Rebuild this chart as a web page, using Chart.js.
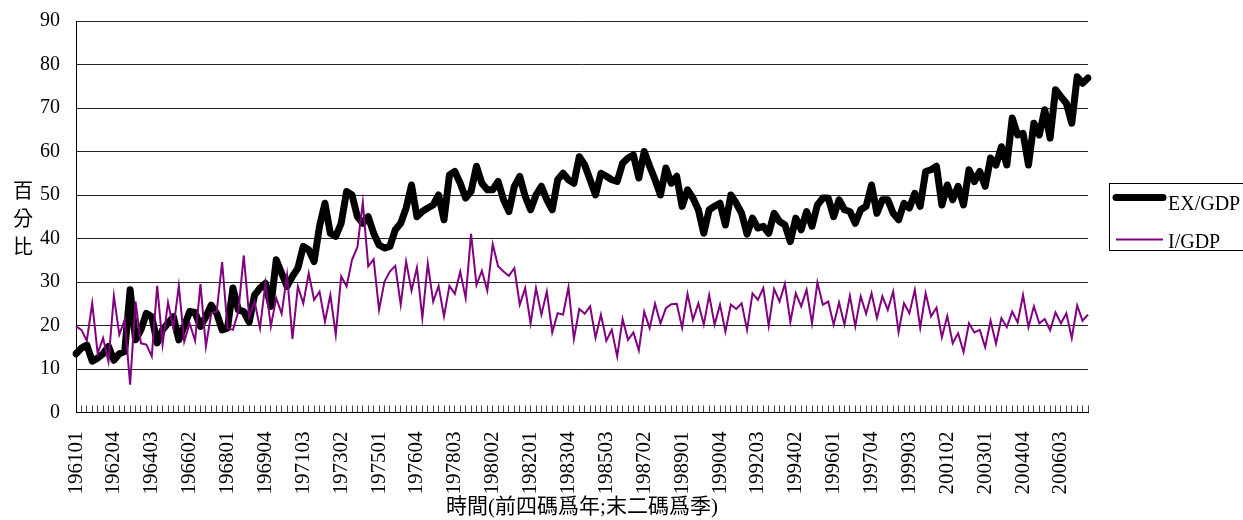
<!DOCTYPE html>
<html>
<head>
<meta charset="utf-8">
<title>EX/GDP 與 I/GDP</title>
<script src="https://cdn.jsdelivr.net/npm/chart.js@4/dist/chart.umd.min.js"></script>
<style>
  html, body { margin: 0; padding: 0; background: #ffffff; }
  #wrap { position: relative; width: 1243px; height: 520px; }
</style>
</head>
<body>
<div id="wrap"><canvas id="chart-canvas"></canvas></div>
<script>
// I build the quarter labels: 196101 ... 200704 (year + two-digit quarter)
const quarters = [];
for (let y = 1961; y <= 2007; y++) {
    for (let q = 1; q <= 4; q++) quarters.push(y + '0' + q);
}

// Exports / GDP (%), one value per quarter
const exGdp = [
    13.5, 14.8, 15.5, 11.8, 12.5, 13.5, 15.2, 12.0, 13.5, 14.0,
    28.2, 16.7, 19.0, 22.8, 22.0, 16.0, 19.0, 20.5, 22.0, 16.7,
    19.8, 23.2, 23.0, 19.8, 22.0, 24.7, 22.8, 19.0, 19.4, 28.6,
    23.6, 23.2, 20.8, 27.0, 28.6, 29.7, 24.4, 35.1, 32.0, 29.0,
    31.3, 33.2, 38.2, 37.4, 34.7, 42.8, 48.1, 41.2, 40.5, 43.5,
    50.8, 50.0, 45.0, 43.5, 45.0, 41.2, 38.5, 37.8, 38.2, 42.0,
    43.5, 47.0, 52.3, 45.0, 46.2, 47.0, 47.7, 50.0, 44.3, 54.6,
    55.4, 52.7, 49.3, 50.8, 56.6, 52.7, 51.2, 51.2, 53.1, 48.9,
    46.2, 52.0, 54.3, 49.7, 46.6, 50.0, 52.0, 48.9, 46.6, 53.5,
    55.0, 53.5, 52.7, 58.8, 56.9, 53.5, 50.0, 55.0, 54.3, 53.5,
    53.1, 57.3, 58.5, 59.2, 53.9, 60.0, 56.6, 53.5, 50.0, 56.2,
    52.7, 54.3, 47.4, 51.2, 49.3, 46.6, 41.2, 46.6, 47.4, 48.1,
    43.1, 50.0, 48.1, 45.8, 41.0, 44.7, 42.4, 42.8, 41.2, 45.8,
    43.9, 43.1, 39.3, 44.7, 42.0, 46.2, 42.8, 47.7, 49.3, 49.3,
    45.0, 48.9, 46.6, 46.2, 43.5, 46.6, 47.4, 52.3, 45.8, 48.9,
    48.9, 45.8, 44.3, 48.1, 47.0, 50.4, 47.4, 55.4, 55.8, 56.6,
    47.7, 52.3, 48.9, 52.0, 47.7, 55.8, 53.1, 55.4, 52.0, 58.5,
    56.9, 61.1, 56.9, 67.7, 63.8, 64.2, 56.9, 66.5, 63.8, 69.6,
    63.1, 74.2, 72.6, 71.1, 66.5, 77.2, 75.7, 76.9
];

// Investment / GDP (%)
const iGdp = [
    19.8, 19.0, 16.5, 25.1, 13.6, 17.1, 11.7, 26.8, 17.9, 21.3,
    6.4, 25.5, 15.9, 15.6, 12.9, 29.1, 15.6, 25.3, 19.4, 29.1,
    16.3, 20.5, 16.5, 29.5, 15.2, 22.8, 23.2, 34.6, 19.4, 19.0,
    23.2, 36.1, 22.0, 25.5, 19.4, 29.7, 19.8, 26.3, 22.7, 31.6,
    16.9, 29.0, 25.1, 32.0, 25.9, 27.8, 20.9, 27.0, 17.9, 31.3,
    29.0, 35.1, 38.0, 48.3, 33.6, 35.2, 23.6, 30.1, 32.4, 33.7,
    24.8, 34.7, 28.0, 33.3, 21.7, 34.3, 25.5, 29.1, 22.1, 29.1,
    27.3, 32.4, 26.3, 41.1, 29.3, 32.6, 28.0, 38.7, 33.6, 32.4,
    31.4, 33.2, 24.8, 28.6, 20.5, 28.6, 22.5, 27.8, 18.4, 22.8,
    22.5, 28.8, 16.9, 23.8, 22.7, 24.4, 17.2, 22.5, 16.5, 19.0,
    12.9, 21.5, 16.7, 18.4, 14.3, 23.2, 19.4, 25.0, 20.5, 24.0,
    24.9, 25.0, 19.5, 27.3, 21.3, 25.1, 20.2, 27.0, 20.2, 24.8,
    18.6, 24.8, 23.8, 25.1, 19.0, 27.4, 25.9, 28.6, 19.9, 28.4,
    25.5, 29.6, 20.8, 27.4, 24.4, 28.2, 20.5, 29.9, 24.8, 25.5,
    20.2, 25.3, 20.2, 26.8, 19.8, 26.7, 22.7, 27.4, 21.7, 26.7,
    23.6, 27.8, 18.5, 25.1, 22.8, 28.2, 19.5, 27.4, 22.1, 24.1,
    17.3, 22.2, 15.9, 18.2, 13.9, 20.5, 18.4, 19.0, 15.0, 21.1,
    15.8, 21.7, 19.6, 23.2, 20.7, 27.0, 19.6, 24.4, 20.5, 21.5,
    18.9, 23.0, 20.5, 22.8, 17.1, 24.6, 21.1, 22.5
];

// y axis range and axis titles
const yMin = 0, yMax = 90, yStep = 10;
const yTitleChars = ['百', '分', '比'];
const xTitle = '時間(前四碼爲年;末二碼爲季)';

const serif = '"Liberation Serif", "Times New Roman", serif';
const cjk = '"Liberation Serif", "Noto Sans CJK TC", sans-serif';

// I draw the vertical y title (one character per line), like the original
const yTitlePlugin = {
    id: 'yTitleStack',
    afterDraw(chart) {
        const ctx = chart.ctx;
        ctx.save();
        ctx.fillStyle = '#000';
        ctx.font = '20px "Noto Sans CJK TC", sans-serif';
        ctx.textAlign = 'center';
        ctx.textBaseline = 'middle';
        yTitleChars.forEach((ch, i) => ctx.fillText(ch, 23, 190 + i * 28));
        ctx.restore();
    }
};

// I draw a boxed legend on the right, taking line styles from the datasets
const boxLegendPlugin = {
    id: 'boxLegend',
    afterDraw(chart) {
        const ctx = chart.ctx;
        const lineY = [197.5, 239.5];
        const textY = [209.5, 248];
        ctx.save();
        ctx.strokeStyle = '#000';
        ctx.lineWidth = 1;
        ctx.strokeRect(1109.5, 183.5, 150, 67);
        chart.data.datasets.forEach((ds, i) => {
            ctx.beginPath();
            ctx.strokeStyle = ds.borderColor;
            ctx.lineWidth = ds.borderWidth;
            ctx.lineCap = ds.borderCapStyle || 'butt';
            ctx.moveTo(1116, lineY[i]);
            ctx.lineTo(1163, lineY[i]);
            ctx.stroke();
            ctx.fillStyle = '#000';
            ctx.font = '20px ' + serif;
            ctx.textAlign = 'left';
            ctx.textBaseline = 'alphabetic';
            ctx.fillText(ds.label, 1168, textY[i]);
        });
        ctx.restore();
    }
};

Chart.defaults.font.family = serif;
Chart.defaults.color = '#000';

const canvas = document.getElementById('chart-canvas');
new Chart(canvas, {
    type: 'line',
    data: {
        labels: quarters,
        datasets: [
            {
                label: 'EX/GDP',
                data: exGdp,
                borderColor: '#000000',
                borderWidth: 7,
                borderCapStyle: 'round',
                borderJoinStyle: 'round',
                pointRadius: 0,
                tension: 0,
                order: 2
            },
            {
                label: 'I/GDP',
                data: iGdp,
                borderColor: '#800080',
                borderWidth: 2,
                borderJoinStyle: 'miter',
                pointRadius: 0,
                tension: 0,
                order: 1 // purple sits on top of the black line
            }
        ]
    },
    options: {
        responsive: true,
        maintainAspectRatio: false,
        animation: false,
        layout: { padding: { top: 21, right: 155, bottom: 0, left: 0 } },
        plugins: {
            legend: { display: false },
            tooltip: { enabled: false }
        },
        scales: {
            x: {
                offset: false,
                grid: {
                    drawOnChartArea: false,
                    drawTicks: true,
                    tickLength: -7, // tick marks point up into the plot
                    color: '#444'
                },
                border: { display: true, color: '#000', width: 1 },
                ticks: {
                    autoSkip: false,
                    minRotation: 90,
                    maxRotation: 90,
                    padding: 26,
                    font: { size: 21, family: serif },
                    color: '#000',
                    callback: function(value, index) {
                        return index % 7 === 0 ? this.getLabelForValue(value) : '';
                    }
                },
                title: {
                    display: true,
                    text: xTitle,
                    color: '#000',
                    font: { size: 21, family: cjk },
                    padding: { top: 0, bottom: 0 }
                },
                afterFit: (scale) => { scale.height = 107.5; }
            },
            y: {
                min: yMin,
                max: yMax,
                grid: { color: '#222', drawTicks: false },
                border: { display: true, color: '#000', width: 1 },
                ticks: {
                    stepSize: yStep,
                    padding: 16,
                    // small line height so the label overflow does not push the plot top down
                    font: { size: 20, family: serif, lineHeight: 0.5 },
                    color: '#000'
                },
                afterFit: (scale) => { scale.width = 76; }
            }
        }
    },
    plugins: [yTitlePlugin, boxLegendPlugin]
});
</script>
</body>
</html>
